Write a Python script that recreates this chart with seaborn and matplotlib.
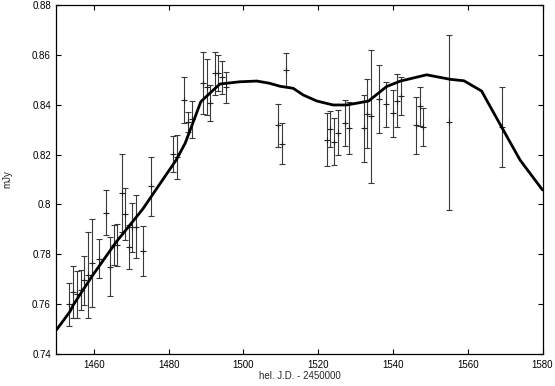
import numpy as np
import pandas as pd
import matplotlib
matplotlib.use("Agg")
import matplotlib.pyplot as plt
import seaborn as sns

# Observations (hel. J.D. - 2450000, flux mJy, error)
obs_jd = [1453.3, 1454.3, 1455.4, 1456.5, 1457.4, 1458.3, 1459.4, 1461.4, 1463.2, 1464.3,
          1465.4, 1466.3, 1467.4, 1468.3, 1469.4, 1470.3, 1471.3, 1473.2, 1475.4,
          1481.2, 1482.3, 1484.2, 1485.3, 1486.2, 1489.1, 1490.2, 1491.1, 1492.4, 1493.3,
          1494.4, 1495.3,
          1509.3, 1510.4, 1511.3,
          1522.3, 1523.2, 1524.2, 1525.2, 1527.2, 1528.2, 1532.3, 1533.1, 1534.1,
          1536.3, 1538.1, 1540.1, 1541.2, 1542.2, 1546.2, 1547.2, 1548.1,
          1555.1, 1569.1]
obs_flux = [0.7599, 0.7649, 0.7639, 0.7656, 0.7696, 0.7717, 0.7764, 0.7783, 0.7967, 0.7751,
            0.7838, 0.7838, 0.8047, 0.7962, 0.7830, 0.7908, 0.7910, 0.7814, 0.8073,
            0.8203, 0.8190, 0.8418, 0.8332, 0.8341, 0.8488, 0.8470, 0.8408, 0.8526, 0.8528,
            0.8510, 0.8470,
            0.8317, 0.8243, 0.8538,
            0.8260, 0.8304, 0.8252, 0.8288, 0.8326, 0.8306, 0.8305, 0.8364, 0.8354,
            0.8422, 0.8401, 0.8366, 0.8416, 0.8436, 0.8317, 0.8394, 0.8311,
            0.8329, 0.8310]
obs_err = [0.0085, 0.0104, 0.0095, 0.0079, 0.0099, 0.0174, 0.0176, 0.0079, 0.0089, 0.0120,
           0.0080, 0.0084, 0.0156, 0.0104, 0.0089, 0.0097, 0.0126, 0.0101, 0.0119,
           0.0072, 0.0088, 0.0092, 0.0040, 0.0075, 0.0125, 0.0112, 0.0072, 0.0087, 0.0072,
           0.0067, 0.0062,
           0.0086, 0.0082, 0.0068,
           0.0106, 0.0072, 0.0094, 0.0091, 0.0091, 0.0103, 0.0133, 0.0138, 0.0266,
           0.0137, 0.0091, 0.0094, 0.0106, 0.0077, 0.0115, 0.0079, 0.0077,
           0.0351, 0.0160]

# Model curve
model_jd = [1450.0, 1453.6, 1454.5, 1459.4, 1466.0, 1473.0, 1478.0, 1482.0, 1484.4, 1486.6,
            1488.6, 1491.0, 1493.7, 1499.0, 1503.6, 1507.0, 1509.8, 1513.3, 1516.0, 1519.6,
            1524.0, 1527.6, 1531.0, 1533.5, 1538.3, 1542.0, 1549.0, 1555.3, 1559.0, 1563.7,
            1569.0, 1574.0, 1580.0]
model_flux = [0.7497, 0.7570, 0.7597, 0.7710, 0.7850, 0.7980, 0.8090, 0.8178, 0.8245, 0.8332,
              0.8412, 0.8446, 0.8483, 0.8492, 0.8495, 0.8486, 0.8474, 0.8466, 0.8439, 0.8415,
              0.8399, 0.8399, 0.8408, 0.8415, 0.8473, 0.8495, 0.8520, 0.8502, 0.8496, 0.8455,
              0.8312, 0.8178, 0.8058]

x_ticks = [1460, 1480, 1500, 1520, 1540, 1560, 1580]
y_ticks = [0.74, 0.76, 0.78, 0.80, 0.82, 0.84, 0.86, 0.88]
y_labels = ["0.74", "0.76", "0.78", "0.8", "0.82", "0.84", "0.86", "0.88"]

sns.set_theme(style="white")
plt.rcParams['font.family'] = ['Liberation Sans', 'DejaVu Sans']

fig = plt.figure(figsize=(5.55, 3.86), dpi=100)
ax = fig.add_axes([0.1018, 0.0829, 0.8757, 0.9041])

obs = pd.DataFrame({"jd": obs_jd, "flux": obs_flux, "err": obs_err})
model = pd.DataFrame({"jd": model_jd, "flux": model_flux})

ax.errorbar(obs["jd"], obs["flux"], yerr=obs["err"], fmt="none",
            ecolor="#3a3a3a", elinewidth=0.8, capsize=2.2, capthick=0.8, zorder=2)
sns.scatterplot(data=obs, x="jd", y="flux", marker="+", s=22, color="#222222",
                linewidth=0.8, ax=ax, zorder=3)
sns.lineplot(data=model, x="jd", y="flux", color="black", linewidth=2.0, ax=ax,
             zorder=4, sort=False)

ax.set_xlim(1450, 1580)
ax.set_ylim(0.74, 0.88)
ax.set_xticks(x_ticks)
ax.set_yticks(y_ticks)
ax.set_yticklabels(y_labels)
ax.set_xlabel("hel. J.D. - 2450000", fontsize=7, labelpad=1)
ax.set_ylabel("mJy", fontsize=7, labelpad=14)
ax.tick_params(direction="in", length=3.5, width=0.8, labelsize=7,
               top=True, right=True, bottom=True, left=True, pad=4, colors="black")
for sp in ax.spines.values():
    sp.set_visible(True)
    sp.set_color("black")
    sp.set_linewidth(0.9)
ax.grid(False)

fig.savefig("out.png", dpi=100)
